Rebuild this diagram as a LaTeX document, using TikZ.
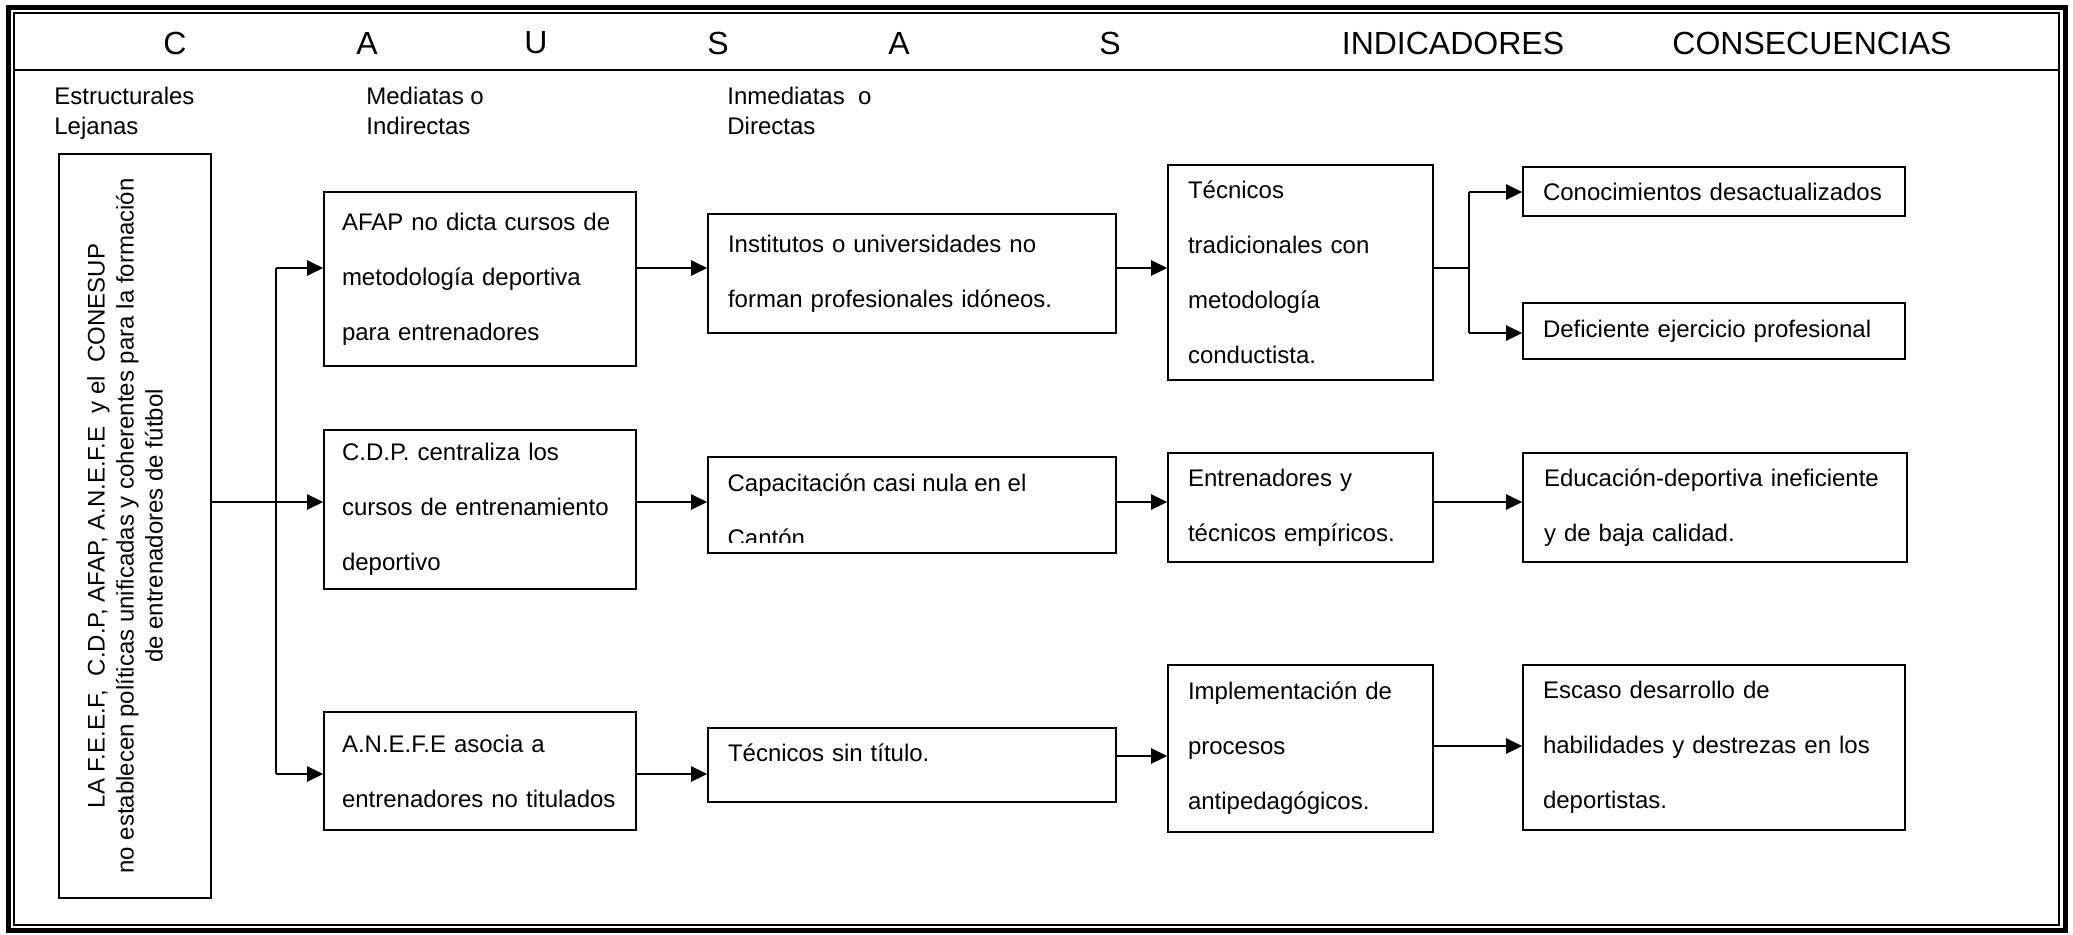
\documentclass[tikz,border=0pt]{standalone}
\usepackage{fontspec}
\setmainfont{Liberation Sans}
\usepackage{tikz}
\usetikzlibrary{arrows.meta}

\begin{document}
\begin{tikzpicture}[x=.5pt, y=-.5pt,
  caja/.style={draw, line width=.8pt, align=left, inner xsep=10pt, inner ysep=0pt, font=\fontsize{12}{27.5}\selectfont},
  c2/.style={caja, inner xsep=9pt, minimum width=156pt, text width=138pt},
  c3/.style={caja, minimum width=204pt, text width=184pt},
  c4/.style={caja, minimum width=132.5pt, text width=112.5pt},
  c5/.style={caja, minimum width=191pt, text width=171pt},
  flecha/.style={line width=1.2pt, -{Triangle[length=8pt,width=7.5pt]}},
  fina/.style={line width=.6pt},
  titulo/.style={font=\fontsize{16}{19}\selectfont},
  sub/.style={anchor=north west, align=left, inner sep=0pt, font=\fontsize{12}{15}\selectfont}]
\useasboundingbox (0,0) rectangle (2073,934);
\draw[line width=2.5pt] (8,7) rectangle (2065,930);
\draw[line width=.7pt] (14,13) rectangle (2059,925);
\draw[line width=1.2pt] (14,70) -- (2059,70);

\foreach \x/\l [count=\i] in {175/C,367/A,536/U,718/S,899/A,1110/S}
  \node[titulo] (t\i) at (\x,43) {\l};
\node[titulo] (ind) at (1453,43) {INDICADORES};
\node[titulo] (cons) at (1812,43) {CONSECUENCIAS};

\node[sub] (est) at (54,87) {Estructurales\\Lejanas};
\node[sub] (med) at (366,87) {Mediatas o\\Indirectas};
\node[sub] (inm) at (727,87) {Inmediatas\ \ o\\Directas};

\node[draw, line width=.8pt, minimum width=76pt, minimum height=372pt] (izq) at (135,526) {};
\node[rotate=90, align=center, inner sep=0pt, font=\fontsize{12}{14.5}\selectfont] (izqtxt) at (125,526)
  {LA F.E.E.F,\ \ C.D.P, AFAP, A.N.E.F.E\ \ y el\ \ CONESUP\\no establecen políticas unificadas y coherentes para la formación\\de entrenadores de fútbol};

\node[c2, minimum height=87pt] (afap) at (480,279) {AFAP no dicta cursos de\\metodología deportiva\\para entrenadores};
\node[c2, minimum height=79.5pt] (cdp) at (480,509.5) {C.D.P. centraliza los\\cursos de entrenamiento\\deportivo};
\node[c2, minimum height=59pt] (anefe) at (480,771) {A.N.E.F.E asocia a\\entrenadores no titulados};

\node[c3, minimum height=59.5pt] (inst) at (912,273.5) {Institutos o universidades no\\forman profesionales idóneos.};
\node[c3, minimum height=48pt] (capac) at (912,505) {};
\begin{scope}
\clip (capac.north west) rectangle ([yshift=5.5pt]capac.south east);
\node[anchor=north west, inner sep=0pt, align=left, font=\fontsize{12}{27.5}\selectfont] (capactxt)
  at ([xshift=10pt,yshift=-8.5pt]capac.north west) {Capacitación casi nula en el\\Cantón};
\end{scope}
\node[c3, minimum height=37pt, text depth=12pt] (sintit) at (912,765) {Técnicos sin título.};

\node[c4, minimum height=107.5pt] (trad) at (1300.5,272.5) {Técnicos\\tradicionales con\\metodología\\conductista.};
\node[c4, minimum height=54.5pt] (empir) at (1300.5,507.5) {Entrenadores y\\técnicos empíricos.};
\node[c4, minimum height=83.5pt] (antiped) at (1300.5,748.5) {Implementación de\\procesos\\antipedagógicos.};

\node[c5, minimum height=24.5pt] (conoc) at (1714,191.5) {Conocimientos desactualizados};
\node[c5, minimum height=28pt] (defic) at (1714,331) {Deficiente ejercicio profesional};
\node[c5, minimum width=192pt, minimum height=54.5pt] (educ) at (1715,507.5) {Educación-deportiva ineficiente\\y de baja calidad.};
\node[c5, minimum height=82.5pt] (escaso) at (1714,747.5) {Escaso desarrollo de\\habilidades y destrezas en los\\deportistas.};

\coordinate (yA) at (0,268);
\coordinate (yB) at (0,502);
\coordinate (yC) at (0,774);
\coordinate (yD) at (0,756);
\coordinate (yE) at (0,746);
\coordinate (yF) at (0,192);
\coordinate (yG) at (0,333);
\coordinate (tronco) at (276,0);
\coordinate (rama) at (1469,0);

\draw[fina] (izq.east |- yB) -- (tronco |- yB);
\draw[fina] (tronco |- yA) -- (tronco |- yC);
\foreach \b/\y in {afap/yA, cdp/yB, anefe/yC}
  \draw[flecha] (tronco |- \y) -- (\b.west |- \y);
\foreach \a/\b/\y in {afap/inst/yA, cdp/capac/yB, anefe/sintit/yC, inst/trad/yA, capac/empir/yB, sintit/antiped/yD, empir/educ/yB, antiped/escaso/yE}
  \draw[flecha] (\a.east |- \y) -- (\b.west |- \y);
\draw[fina] (trad.east |- yA) -- (rama |- yA);
\draw[fina] (rama |- yF) -- (rama |- yG);
\foreach \b/\y in {conoc/yF, defic/yG}
  \draw[flecha] (rama |- \y) -- (\b.west |- \y);
\end{tikzpicture}
\end{document}
